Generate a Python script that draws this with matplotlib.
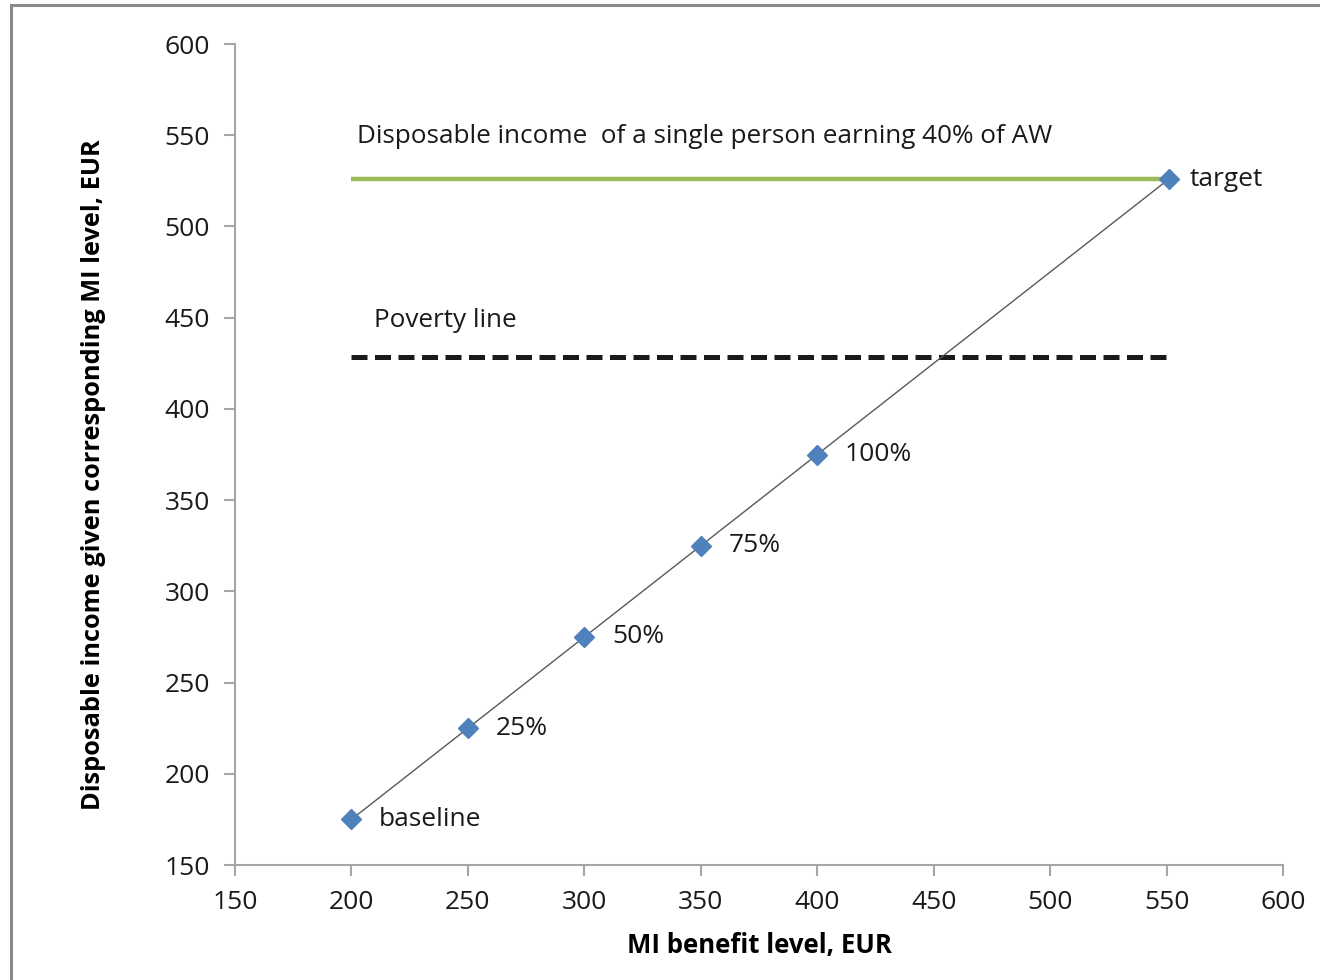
# Minimum income scenarios: disposable income against MI benefit level
import matplotlib.pyplot as plt
from matplotlib.patches import Rectangle

plt.rcParams['font.family'] = ['Open Sans', 'DejaVu Sans']

# MI benefit levels and the resulting disposable income
mi_level = [200, 250, 300, 350, 400, 551]
disp_income = [175, 225, 275, 325, 375, 526]
point_labels = ['baseline', '25%', '50%', '75%', '100%', 'target']

# reference lines
aw40_income = 526
poverty_line = 428.5
line_start, line_end = 200, 551

fig = plt.figure(figsize=(13.2, 9.8), dpi=100)
ax = fig.add_axes([0.178, 0.1173, 0.794, 0.8378])

gray = '#a6a6a6'
ax.hlines(aw40_income, line_start, line_end, color='#9bbb59', lw=3.2, zorder=2)
ax.hlines(poverty_line, line_start, line_end, color='#1a1a1a', lw=3.6,
          linestyles=(0, (3.2, 1.5)), zorder=2)
ax.plot(mi_level, disp_income, color='#595959', lw=1.0, zorder=3)
ax.plot(mi_level, disp_income, ls='none', marker='D', ms=10,
        color='#4f81bd', zorder=4)

for x, y, lab in zip(mi_level, disp_income, point_labels):
    dx = 15 if lab == 'target' else 20
    ax.annotate(lab, (x, y), xytext=(dx, 0), textcoords='offset points',
                va='center', ha='left', fontsize=19, color='#1a1a1a')

ax.text(202.5, 549.5, 'Disposable income  of a single person earning 40% of AW',
        fontsize=18.8, va='center', ha='left', color='#1a1a1a')
ax.text(209.5, 448.5, 'Poverty line', fontsize=18.8, va='center', ha='left',
        color='#1a1a1a')

ax.set_xlim(150, 600)
ax.set_ylim(150, 600)
ax.set_xticks(range(150, 601, 50))
ax.set_yticks(range(150, 601, 50))
ax.tick_params(labelsize=19, colors=gray, labelcolor='#1a1a1a',
               length=8, width=1.5, direction='out', pad=10)
for side in ['top', 'right']:
    ax.spines[side].set_visible(False)
for side in ['left', 'bottom']:
    ax.spines[side].set_color(gray)
    ax.spines[side].set_linewidth(1.5)

ax.set_xlabel('MI benefit level, EUR', fontsize=18.5, fontweight='bold',
              labelpad=12)
ax.set_ylabel('Disposable income given corresponding MI level, EUR',
              fontsize=18.3, fontweight='bold')
ax.yaxis.set_label_coords(-0.123, 0.475)

# chart frame
fig.patches.append(Rectangle((11 / 1320, -0.05), 1.2, 1.05 - 5 / 980,
                             transform=fig.transFigure, fill=False,
                             edgecolor='#898989', lw=2.2))

fig.savefig('out.png', dpi=100)
